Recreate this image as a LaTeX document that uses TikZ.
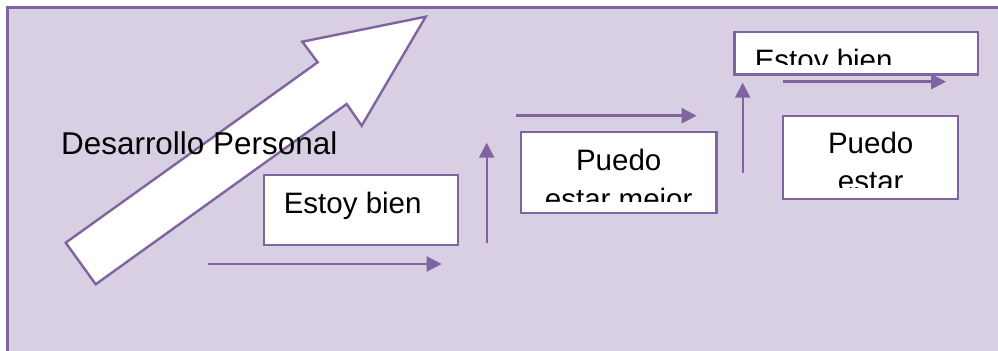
\documentclass[tikz,border=0pt]{standalone}
\usepackage{fontspec}
\setmainfont{Liberation Sans}
\usetikzlibrary{arrows.meta}

\definecolor{lila}{RGB}{128,100,162}
\definecolor{fondo}{RGB}{216,207,227}

\begin{document}
\begin{tikzpicture}[x=0.02cm, y=-0.02cm, >={Triangle[length=0.3cm,width=0.3cm]},
    caja/.style={draw=lila, fill=white, line width=0.048cm, inner sep=0pt},
    texto/.style={inner sep=0pt, font=\fontsize{16.8}{22}\selectfont},
    flecha/.style={->, draw=lila, line width=0.048cm}]
  \useasboundingbox (0,0) rectangle (998,351);
  % fondo
  \fill[fondo] (7.5,7.5) rectangle (998,351);
  \draw[lila, line width=0.048cm] (998,7.5) -- (7.5,7.5) -- (7.5,351);
  % flecha grande
  \draw[lila, fill=white, line width=0.048cm] (65.7,242.7) -- (317.7,62.3) -- (302.3,41.7) -- (425.7,16.7) -- (361.7,125.7) -- (346.7,104) -- (95.7,284.3) -- cycle;
  \node[texto, font=\fontsize{17.9}{22}\selectfont, anchor=base west] (lema) at (60.8,155) {Desarrollo Personal};
  % cajas
  \node[caja, minimum width=3.87cm, minimum height=1.4cm] (bienA) at (361,210) {};
  \node[caja, minimum width=3.92cm, minimum height=1.61cm] (mejor) at (618.7,172.5) {};
  \node[caja, minimum width=4.87cm, minimum height=0.85cm] (bienB) at (856.2,53.3) {};
  \node[caja, minimum width=3.51cm, minimum height=1.67cm] (estar) at (870.5,157.5) {};
  % textos
  \node[texto, anchor=base west] (tbienA) at (283.4,213.3) {Estoy bien};
  \begin{scope}
    \clip (mejor.north west) rectangle ([yshift=0.25cm]mejor.south east);
    \node[texto, anchor=base] (puedoA) at (618.7,170.7) {Puedo};
    \node[texto, anchor=base] (estarA) at (618.7,210) {estar mejor};
  \end{scope}
  \begin{scope}
    \clip (bienB.north west) rectangle ([yshift=0.22cm]bienB.south east);
    \node[texto, anchor=base west] (tbienB) at (754.4,70.7) {Estoy bien};
  \end{scope}
  \begin{scope}
    \clip (estar.north west) rectangle ([yshift=0.25cm]estar.south east);
    \node[texto, anchor=base] (puedoB) at (870.7,153.3) {Puedo};
    \node[texto, anchor=base] (estarB) at (870.7,192) {estar};
  \end{scope}
  % flechas
  \coordinate (f1a) at (208.3,264);   \coordinate (f1b) at (441.7,264);
  \coordinate (f2a) at (486.7,243.3); \coordinate (f2b) at (486.7,142.7);
  \coordinate (f3a) at (516,115.7);   \coordinate (f3b) at (696.7,115.7);
  \coordinate (f4a) at (742.7,173.3); \coordinate (f4b) at (742.7,82.7);
  \coordinate (f5a) at (783.3,81.7);  \coordinate (f5b) at (946,81.7);
  \foreach \n in {1,...,5}
    \draw[flecha] (f\n a) -- (f\n b);
\end{tikzpicture}
\end{document}
